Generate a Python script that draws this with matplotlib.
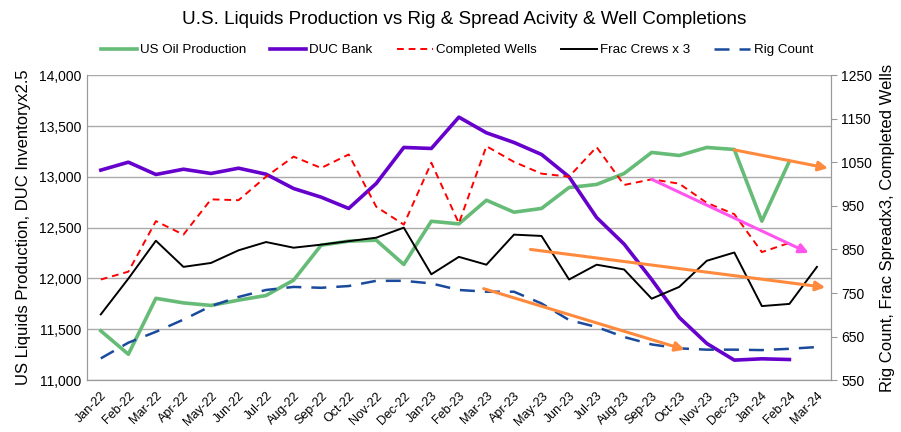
import matplotlib.pyplot as plt
import numpy as np

plt.rcParams['font.family'] = ['Liberation Sans', 'DejaVu Sans']

months = ['Jan-22', 'Feb-22', 'Mar-22', 'Apr-22', 'May-22', 'Jun-22', 'Jul-22', 'Aug-22',
          'Sep-22', 'Oct-22', 'Nov-22', 'Dec-22', 'Jan-23', 'Feb-23', 'Mar-23', 'Apr-23',
          'May-23', 'Jun-23', 'Jul-23', 'Aug-23', 'Sep-23', 'Oct-23', 'Nov-23', 'Dec-23',
          'Jan-24', 'Feb-24', 'Mar-24']

# left axis (thousand b/d and DUC x2.5)
oil_prod = [11485, 11255, 11805, 11760, 11735, 11787, 11833, 11984, 12328, 12367, 12377, 12138,
            12563, 12537, 12770, 12652, 12689, 12895, 12925, 13033, 13240, 13210, 13289, 13269,
            12564, 13154, None]
duc_bank = [13066, 13144, 13023, 13075, 13033, 13085, 13026, 12885, 12800, 12689, 12935, 13289,
            13279, 13587, 13433, 13338, 13220, 13000, 12600, 12338, 11990, 11617, 11361, 11197,
            11210, 11203, None]

# right axis
completed_wells = [781, 799, 915, 884, 965, 963, 1017, 1063, 1037, 1068, 948, 907, 1049, 910,
                   1087, 1051, 1024, 1017, 1085, 998, 1011, 1001, 957, 931, 844, 865, None]
frac_crews_x3 = [701, 783, 870, 810, 819, 848, 867, 854, 861, 869, 877, 900, 793, 833, 815, 884,
                 881, 781, 815, 804, 737, 764, 824, 843, 720, 725, 810]
rig_count = [600, 636, 661, 689, 720, 741, 757, 764, 762, 766, 778, 778, 772, 757, 753, 753, 726,
             688, 672, 649, 632, 623, 620, 620, 619, 622, 626]

# trend arrows: (x0, y0, x1, y1, axis, colour) in category index / axis units
trend_arrows = [
    (23.0, 13265, 26.4, 13085, 'left', '#FF8A3D'),
    (20.0, 1011, 25.7, 842, 'right', '#FF55EE'),
    (15.6, 850, 26.3, 763, 'right', '#FF8A3D'),
    (13.9, 760, 21.2, 620, 'right', '#FF8A3D'),
]

x = np.arange(len(months))

def arr(v):
    return np.array([np.nan if a is None else a for a in v], dtype=float)

fig = plt.figure(figsize=(9.01, 4.32), dpi=100)
ax = fig.add_axes([0.0966, 0.12, 0.8254, 0.706])
ax2 = ax.twinx()

l1, = ax.plot(x, arr(oil_prod), color='#66BB77', lw=2.6, label='US Oil Production')
l2, = ax.plot(x, arr(duc_bank), color='#6600CC', lw=2.6, label='DUC Bank')
l3, = ax2.plot(x, arr(completed_wells), color='#FF0000', lw=1.4, ls=(0, (3.5, 2.5)),
               label='Completed Wells')
l4, = ax2.plot(x, arr(frac_crews_x3), color='black', lw=1.4, label='Frac Crews x 3')
l5, = ax2.plot(x, arr(rig_count), color='#1A4A9C', lw=1.8, ls=(0, (6, 4)), label='Rig Count')

for x0, y0, x1, y1, which, c in trend_arrows:
    a = ax if which == 'left' else ax2
    a.annotate('', xy=(x1, y1), xytext=(x0, y0),
               arrowprops=dict(arrowstyle='-|>,head_length=0.55,head_width=0.28',
                               color=c, lw=2.2, shrinkA=0, shrinkB=0))

ax.set_xlim(-0.5, len(months) - 0.5)
ax.set_ylim(11000, 14000)
ax.set_yticks(np.arange(11000, 14001, 500))
ax.set_yticklabels([f'{v:,}' for v in range(11000, 14001, 500)], fontsize=10)
ax2.set_ylim(550, 1250)
ax2.set_yticks(np.arange(550, 1251, 100))
ax2.tick_params(axis='y', labelsize=10, length=4, color='#999999')
ax.set_xticks(x)
ax.set_xticklabels(months, rotation=45, ha='right', rotation_mode='anchor', fontsize=9)
ax.tick_params(axis='x', length=0, pad=7)
ax.tick_params(axis='y', length=0, pad=4)
ax.grid(axis='y', color='#AAAAAA', lw=1)
ax.set_axisbelow(True)

for s in ['top']:
    ax.spines[s].set_visible(False)
    ax2.spines[s].set_visible(False)
for s in ['left', 'bottom', 'right']:
    ax2.spines[s].set_color('#999999')
    ax.spines[s].set_color('#999999')

ax.set_ylabel('US Liquids Production, DUC Inventoryx2.5', fontsize=12, labelpad=6)
ax2.set_ylabel('Rig Count, Frac Spreadx3, Completed Wells', fontsize=12, labelpad=6)

fig.suptitle('U.S. Liquids Production vs Rig & Spread Acivity & Well Completions',
             fontsize=13.6, x=0.515, y=0.975)
fig.legend(handles=[l1, l2, l3, l4, l5], loc='center', bbox_to_anchor=(0.507, 0.884),
           ncol=5, frameon=False, fontsize=9.6, handlelength=2.7, columnspacing=1.8,
           handletextpad=0.25)

fig.savefig('out.png', dpi=100)
